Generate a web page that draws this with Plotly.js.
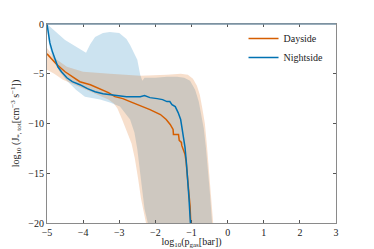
<!DOCTYPE html>
<html><head><meta charset="utf-8">
<script src="https://cdn.plot.ly/plotly-3.0.1.min.js"></script>
<style>html,body{margin:0;padding:0;background:#fff}#plot{width:374px;height:249px}</style>
</head><body><div id="plot"></div>
<script>
// Dayside mean line
const dayX = [-5, -4.92, -4.75, -4.5, -4.3, -4.09, -3.8, -3.53, -3.3, -3.12, -2.9, -2.7, -2.42, -2.15, -1.86, -1.7, -1.59, -1.51, -1.5, -1.36, -1.34, -1.28, -1.27, -1.22, -1.18, -1.15, -1.13, -1.1, -1.07, -1.04, -1.02];
const dayY = [-3.0, -3.3, -4.0, -4.8, -5.3, -5.8, -6.1, -6.5, -6.9, -7.3, -7.5, -7.8, -8.2, -8.6, -9.1, -9.6, -10.1, -10.6, -11.1, -11.1, -11.7, -11.9, -12.2, -12.6, -13.1, -13.8, -14.6, -15.9, -17, -18.3, -20];
// Nightside mean line
const nightX = [-5, -4.95, -4.92, -4.85, -4.78, -4.7, -4.6, -4.45, -4.3, -4.09, -3.88, -3.67, -3.45, -3.26, -3.0, -2.8, -2.62, -2.42, -2.3, -2.15, -1.95, -1.8, -1.68, -1.6, -1.54, -1.45, -1.37, -1.3, -1.27, -1.22, -1.18, -1.14, -1.1, -1.07, -1.04, -1.03];
const nightY = [0, -1.0, -1.9, -2.8, -3.6, -4.3, -4.8, -5.4, -5.8, -6.1, -6.5, -6.8, -7.0, -7.1, -7.2, -7.3, -7.3, -7.3, -7.2, -7.4, -7.5, -7.6, -7.8, -7.8, -8.1, -8.3, -8.9, -9.6, -10.3, -11.3, -12.4, -14, -15.6, -17.5, -19.4, -20];
// Dayside spread (upper and lower edges)
const dayUpperX = [-5, -4.8, -4.45, -4.0, -3.26, -2.42, -1.68, -1.3, -1.1, -0.96, -0.85, -0.77, -0.7, -0.63, -0.57, -0.51, -0.45, -0.4];
const dayUpperY = [-2.4, -3.4, -4.3, -4.8, -5.0, -5.2, -5.1, -5.0, -5.1, -5.5, -6.2, -7.1, -8.5, -10.0, -12.3, -15.0, -17.5, -20];
const dayLowerX = [-5, -4.8, -4.56, -4.3, -4.0, -3.6, -3.3, -3.15, -3.05, -2.92, -2.82, -2.74, -2.7, -2.66, -2.57, -2.48, -2.4, -2.33, -2.26];
const dayLowerY = [-4.6, -5.0, -5.6, -6.0, -6.5, -7.1, -7.6, -8.0, -8.5, -9.6, -10.5, -11.2, -11.6, -12.0, -13.5, -15.5, -17.5, -18.8, -20];
// Nightside spread (upper and lower edges)
const nightUpperX = [-5, -4.5, -3.92, -3.8, -3.67, -3.45, -3.26, -3.0, -2.8, -2.7, -2.5, -2.42, -2.36, -2.3, -2.0, -1.68, -1.4, -1.2, -1.04, -0.9, -0.8, -0.72, -0.66, -0.6, -0.54, -0.49, -0.43];
const nightUpperY = [0, -1.6, -2.9, -2.0, -1.3, -0.9, -0.8, -0.9, -1.5, -2.1, -3.6, -5.1, -5.7, -5.4, -5.4, -5.3, -5.3, -5.4, -5.7, -6.6, -7.8, -9.3, -10.5, -12.5, -14.8, -17.0, -20];
const nightLowerX = [-5, -4.97, -4.9, -4.8, -4.65, -4.45, -4.2, -3.95, -3.53, -3.26, -2.98, -2.7, -2.58, -2.5, -2.39, -2.3, -2.21];
const nightLowerY = [0, -1.5, -2.8, -3.8, -4.8, -5.7, -6.6, -7.3, -7.6, -7.9, -8.3, -9.6, -10.9, -12.6, -15.9, -18.6, -20];

const xTicks = [-5, -4, -3, -2, -1, 0, 1, 2, 3];
const yTicks = [0, -5, -10, -15, -20];

function band(ux, uy, lx, ly) {
  return { x: ux.concat(lx.slice().reverse()), y: uy.concat(ly.slice().reverse()) };
}
const nb = band(nightUpperX, nightUpperY, nightLowerX, nightLowerY);
const db = band(dayUpperX, dayUpperY, dayLowerX, dayLowerY);

const cDay = '#D55E00', cNight = '#0072B2';
const font = 'Liberation Serif, DejaVu Serif, serif';
const data = [
  {x: nb.x, y: nb.y, mode: 'lines', fill: 'toself', fillcolor: 'rgba(0,114,178,0.2)', line: {width: 0}, showlegend: false, hoverinfo: 'skip'},
  {x: db.x, y: db.y, mode: 'lines', fill: 'toself', fillcolor: 'rgba(213,94,0,0.2)', line: {width: 0}, showlegend: false, hoverinfo: 'skip'},
  {x: dayX, y: dayY, mode: 'lines', name: 'Dayside', line: {color: cDay, width: 1.5}},
  {x: nightX, y: nightY, mode: 'lines', name: 'Nightside', line: {color: cNight, width: 1.5}}
];
const axisCommon = {
  showgrid: false, zeroline: false, showline: true, linecolor: '#8a8a8a', linewidth: 1,
  mirror: 'ticks', ticks: 'inside', ticklen: 3, tickcolor: '#555', tickwidth: 1,
  tickfont: {family: font, size: 10, color: '#222'}
};
const layout = {
  width: 374, height: 249,
  margin: {l: 47, r: 38, t: 24, b: 26},
  paper_bgcolor: '#fff', plot_bgcolor: '#fff',
  font: {family: font, color: '#222'},
  xaxis: Object.assign({}, axisCommon, {
    range: [-5, 3], tickvals: xTicks, ticktext: xTicks.map(v => v < 0 ? '\u2212' + Math.abs(v) : String(v)),
    title: {text: 'log<sub>10</sub>(p<sub>gas</sub>[bar])', font: {family: font, size: 10, color: '#222'}, standoff: 4}
  }),
  yaxis: Object.assign({}, axisCommon, {
    range: [-20, 0], tickvals: yTicks, ticktext: yTicks.map(v => v < 0 ? '\u2212' + Math.abs(v) : String(v)),
    title: {text: 'log<sub>10</sub> (J<sub>*, tot</sub>[cm<sup>\u22123</sup> s<sup>\u22121</sup>])', font: {family: font, size: 10, color: '#222'}, standoff: 6}
  }),
  legend: {x: 0.68, y: 1.0, xanchor: 'left', yanchor: 'top', bgcolor: 'rgba(0,0,0,0)',
    font: {family: font, size: 10, color: '#222'}, tracegroupgap: 0},
  shapes: [
    {type: 'line', xref: 'paper', yref: 'paper', x0: 0, x1: 1, y0: 1, y1: 1, line: {color: '#7893a6', width: 1.5}}
  ],
  showlegend: true
};
Plotly.newPlot('plot', data, layout, {displayModeBar: false, staticPlot: true});
</script></body></html>
